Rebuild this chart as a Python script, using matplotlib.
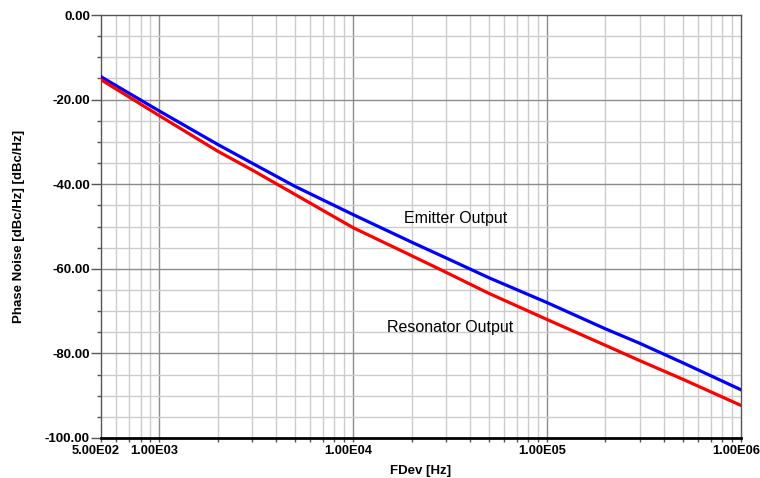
import matplotlib
matplotlib.use("Agg")
import matplotlib.pyplot as plt
from matplotlib.ticker import FixedLocator, NullFormatter
from matplotlib.transforms import ScaledTranslation
import numpy as np

plt.rcParams['font.family'] = ['Liberation Sans', 'DejaVu Sans']

# values
freq = [500, 1e3, 2e3, 3e3, 5e3, 1e4, 2e4, 3e4, 5e4, 1e5, 2e5, 3e5, 5e5, 1e6]
emitter = [-14.6, -22.7, -30.6, -35.0, -40.5, -47.2, -53.7, -57.4, -62.1, -68.0, -74.2, -77.6, -82.2, -88.6]
resonator = [-15.3, -23.8, -32.2, -36.6, -42.4, -50.3, -56.9, -60.8, -65.8, -72.0, -78.1, -81.7, -86.1, -92.3]

x_major = [500, 1e3, 1e4, 1e5, 1e6]
x_labels = ["5.00E02", "1.00E03", "1.00E04", "1.00E05", "1.00E06"]
y_major = [0, -20, -40, -60, -80, -100]
y_labels = ["0.00", "-20.00", "-40.00", "-60.00", "-80.00", "-100.00"]

fig = plt.figure(figsize=(7.6, 4.78), dpi=100)
ax = fig.add_axes([0.1329, 0.0837, 0.975 - 0.1329, 0.9686 - 0.0837])

ax.set_xscale("log")
ax.set_xlim(500, 1e6)
ax.set_ylim(-100, 0)

# grid: light minor lines, darker decade / 20 dB lines
x_minor = [m * 10 ** e for e in range(2, 6) for m in range(2, 10) if 500 < m * 10 ** e < 1e6]
for v in x_minor:
    ax.axvline(v, color="#cccccc", lw=1, zorder=0)
for v in x_major[1:-1]:
    ax.axvline(v, color="#8c8c8c", lw=1, zorder=0)
for v in np.arange(-95, 0, 5):
    if v % 20 != 0:
        ax.axhline(v, color="#cccccc", lw=1, zorder=0)
for v in y_major[1:-1]:
    ax.axhline(v, color="#8c8c8c", lw=1, zorder=0)

ax.plot(freq, emitter, color="#0000ff", lw=2.3, zorder=3)
ax.plot(freq, resonator, color="#ff0000", lw=2.3, zorder=3)

ax.text(3.38e4, -48.0, "Emitter Output", fontsize=11.5, ha="center", va="center")
ax.text(3.15e4, -73.8, "Resonator Output", fontsize=11.5, ha="center", va="center")

ax.xaxis.set_major_locator(FixedLocator(x_major))
ax.xaxis.set_major_formatter(NullFormatter())
ax.xaxis.set_minor_locator(FixedLocator(x_minor))
ax.xaxis.set_minor_formatter(NullFormatter())
ax.set_yticks(y_major)
ax.set_yticklabels(y_labels, fontsize=9.5, fontweight="bold")
ax.set_yticks(np.arange(-95, 0, 5), minor=True)

# x tick labels sit a few pixels left of their ticks in the reference
shift = ScaledTranslation(-5 / 100, -7 / 100, fig.dpi_scale_trans)
for v, t in zip(x_major, x_labels):
    ax.text(v, 0, t, transform=ax.get_xaxis_transform() + shift,
            ha="center", va="top", fontsize=9.3, fontweight="bold")

ax.tick_params(axis="y", which="major", length=7, width=1, color="#555555", pad=1)
ax.tick_params(axis="y", which="minor", length=3, width=1, color="#555555")
ax.tick_params(axis="x", which="major", length=3, width=1, color="#555555", pad=1)
ax.tick_params(axis="x", which="minor", length=3, width=1, color="#555555")

for s in ["left", "top", "right"]:
    ax.spines[s].set_color("#555555")
    ax.spines[s].set_linewidth(1)
ax.spines["bottom"].set_color("black")
ax.spines["bottom"].set_linewidth(2)

ax.set_xlabel("FDev [Hz]", fontsize=9.5, fontweight="bold", labelpad=13)
ax.set_ylabel("Phase Noise [dBc/Hz] [dBc/Hz]", fontsize=9.5, fontweight="bold", labelpad=14)

fig.savefig("out.png", dpi=100)
